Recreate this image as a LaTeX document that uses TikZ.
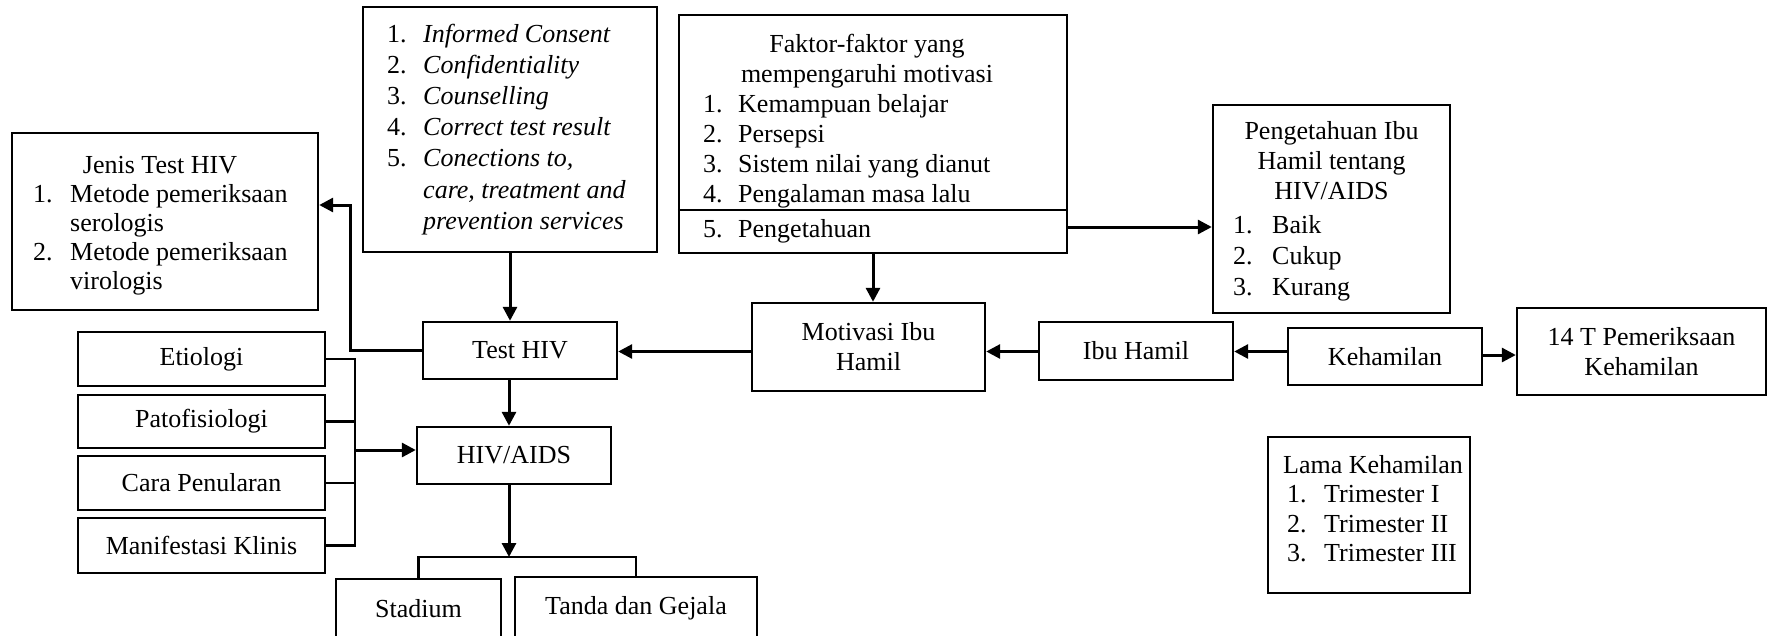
\documentclass[tikz,border=0pt]{standalone}
\usepackage{fontspec}
\setmainfont{Liberation Serif}
\usetikzlibrary{arrows.meta,calc}
\begin{document}
\begin{tikzpicture}[x=1pt,y=-1pt,
  box/.style={draw,line width=2.4pt,rectangle,inner sep=0pt,align=center,font=\fontsize{26}{30}\selectfont},
  txt/.style={inner sep=0pt,font=\fontsize{26}{30}\selectfont},
  arr/.style={line width=3pt,-{Triangle[length=14pt,width=14pt]}},
  ln/.style={line width=2.4pt}]
\useasboundingbox (0,0) rectangle (1768,635);
\clip (0,0) rectangle (1768,635);
% boxes
\node[box,minimum width=306pt,minimum height=177pt] (jenis) at (165,221.5) {};
\node[box,minimum width=294pt,minimum height=245pt] (inf) at (510,129.5) {};
\node[box,minimum width=388pt,minimum height=238pt] (fak) at (873,134) {};
\node[box,minimum width=237pt,minimum height=208pt] (pk) at (1331.5,209) {};
\node[box,minimum width=194pt,minimum height=57pt] (tst) at (520,350.5) {Test HIV};
\node[box,minimum width=194pt,minimum height=57pt] (hiv) at (514,455.5) {HIV/AIDS};
\node[box,minimum width=233pt,minimum height=88pt] (mot) at (868.5,347) {Motivasi Ibu\\Hamil};
\node[box,minimum width=194pt,minimum height=58pt] (ibu) at (1136,351) {Ibu Hamil};
\node[box,minimum width=194pt,minimum height=57pt] (keh) at (1385,356.5) {Kehamilan};
\node[box,minimum width=249pt,minimum height=87pt] (t14) at (1641.5,351.5) {14 T Pemeriksaan\\Kehamilan};
\node[box,minimum width=247pt,minimum height=54pt] (eti) at (201.5,359) {Etiologi};
\node[box,minimum width=247pt,minimum height=53pt] (pat) at (201.5,421.5) {Patofisiologi};
\node[box,minimum width=247pt,minimum height=54pt] (car) at (201.5,483) {Cara Penularan};
\node[box,minimum width=247pt,minimum height=55pt] (man) at (201.5,545.5) {Manifestasi Klinis};
\node[box,minimum width=165pt,minimum height=60pt] (sta) at (418.5,609) {Stadium};
\node[box,minimum width=242pt,minimum height=62pt] (tan) at (636,608) {Tanda dan Gejala};
\node[box,minimum width=202pt,minimum height=156pt] (lama) at (1369,515) {};
% divider in Faktor box
\coordinate (div) at (0,210);
\draw[ln] (fak.west |- div) -- (fak.east |- div);
% texts
\node[txt,anchor=base] (jt) at (160,173) {Jenis Test HIV};
\node[txt,anchor=base west,font=\fontsize{26}{29}\selectfont] (jl) at (33,202) {\begin{tabular}[t]{@{}p{37pt}@{}l@{}}1.&Metode pemeriksaan\\&serologis\\2.&Metode pemeriksaan\\&virologis\end{tabular}};
\node[txt,anchor=base west,font=\fontsize{26}{31.1}\selectfont] (il) at (387,42.5) {\begin{tabular}[t]{@{}p{36pt}@{}l@{}}1.&\textit{Informed Consent}\\2.&\textit{Confidentiality}\\3.&\textit{Counselling}\\4.&\textit{Correct test result}\\5.&\textit{Conections to,}\\&\textit{care, treatment and}\\&\textit{prevention services}\end{tabular}};
\node[txt,anchor=base,font=\fontsize{26}{30}\selectfont] (ft) at (867,52) {\begin{tabular}[t]{@{}c@{}}Faktor-faktor yang\\mempengaruhi motivasi\end{tabular}};
\node[txt,anchor=base west,font=\fontsize{26}{30}\selectfont] (fl) at (703,112) {\begin{tabular}[t]{@{}p{35pt}@{}l@{}}1.&Kemampuan belajar\\2.&Persepsi\\3.&Sistem nilai yang dianut\\4.&Pengalaman masa lalu\end{tabular}};
\node[txt,anchor=base west] (f5) at (703,237) {\makebox[35pt][l]{5.}Pengetahuan};
\node[txt,anchor=base,font=\fontsize{26}{30}\selectfont] (pt) at (1331.5,139) {\begin{tabular}[t]{@{}c@{}}Pengetahuan Ibu\\Hamil tentang\\HIV/AIDS\end{tabular}};
\node[txt,anchor=base west,font=\fontsize{26}{31}\selectfont] (pl) at (1233,233) {\begin{tabular}[t]{@{}p{39pt}@{}l@{}}1.&Baik\\2.&Cukup\\3.&Kurang\end{tabular}};
\node[txt,anchor=base] (lt) at (1373,473) {Lama Kehamilan};
\node[txt,anchor=base west,font=\fontsize{26}{29.7}\selectfont] (ll) at (1287,502.5) {\begin{tabular}[t]{@{}p{37pt}@{}l@{}}1.&Trimester I\\2.&Trimester II\\3.&Trimester III\end{tabular}};
% connectors
\draw[arr] (inf.south) -- (inf.south |- tst.north);
\coordinate (hx) at (509,0);
\draw[arr] (tst.south -| hx) -- (hiv.north -| hx);
\coordinate (c1) at (350,205);
\draw[arr] (tst.west) -| (c1) -- (jenis.east |- c1);
\draw[arr] (fak.south) -- (fak.south |- mot.north);
\coordinate (p5) at (0,227);
\draw[arr] (fak.east |- p5) -- (pk.west |- p5);
\coordinate (row) at (0,351.5);
\draw[arr] (mot.west |- row) -- (tst.east |- row);
\draw[arr] (ibu.west |- row) -- (mot.east |- row);
\draw[arr] (keh.west |- row) -- (ibu.east |- row);
\coordinate (row2) at (0,355);
\draw[arr] (keh.east |- row2) -- (t14.west |- row2);
\coordinate (bx) at (355,0);
\draw[ln] (eti.east) -- (eti.east -| bx) -- (man.east -| bx) -- (man.east);
\draw[ln] (pat.east) -- (pat.east -| bx);
\draw[ln] (car.east) -- (car.east -| bx);
\coordinate (ay) at (0,450);
\draw[arr] (bx |- ay) -- (hiv.west |- ay);
\coordinate (bt) at (0,557);
\draw[arr] (hiv.south -| hx) -- (hx |- bt);
\draw[ln] (sta.north) -- (sta.north |- bt) -- (tan.north |- bt) -- (tan.north);
\end{tikzpicture}
\end{document}
